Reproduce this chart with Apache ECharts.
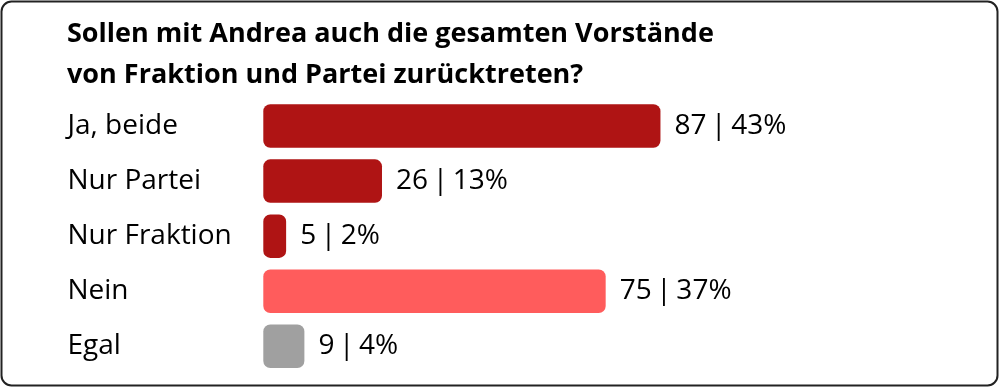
<!DOCTYPE html>
<html>
<head>
<meta charset="utf-8">
<script src="https://cdn.jsdelivr.net/npm/echarts@6/dist/echarts.min.js"></script>
<style>
html,body{margin:0;padding:0;background:#fff;}
#c{width:1000px;height:388px;}
</style>
</head>
<body>
<div id="c"></div>
<script>
const titleText = 'Sollen mit Andrea auch die gesamten Vorstände\nvon Fraktion und Partei zurücktreten?';
const categories = ['Ja, beide', 'Nur Partei', 'Nur Fraktion', 'Nein', 'Egal'];
const counts = [87, 26, 5, 75, 9];
const percents = [43, 13, 2, 37, 4];
const barColors = ['#AF1414', '#AF1414', '#AF1414', '#FF5C5C', '#A0A0A0'];

const FONT = '"Open Sans", sans-serif';
const chart = echarts.init(document.getElementById('c'), null, {renderer: 'canvas'});
const gridLeft = 263.3;
chart.setOption({
  backgroundColor: '#fff',
  animation: false,
  title: {
    text: titleText,
    left: 62,
    top: 9,
    textStyle: {fontFamily: FONT, fontWeight: 'bold', fontSize: 27, lineHeight: 41, color: '#000'}
  },
  graphic: [{
    type: 'rect', z: 100, silent: true,
    shape: {x: 1.5, y: 1.5, width: 996, height: 384, r: 10},
    style: {fill: 'none', stroke: '#222', lineWidth: 2}
  }],
  grid: {left: gridLeft, top: 98.5, width: 456.5, height: 275.3, containLabel: false},
  xAxis: {type: 'value', min: 0, max: 100, show: false},
  yAxis: {
    type: 'category', data: categories, inverse: true,
    axisLine: {show: false}, axisTick: {show: false},
    axisLabel: {align: 'left', margin: gridLeft - 67.5, fontFamily: FONT, fontSize: 28, color: '#000'}
  },
  series: [{
    type: 'bar',
    data: counts.map((v, i) => ({value: v, itemStyle: {color: barColors[i]}})),
    barCategoryGap: '21%',
    itemStyle: {borderRadius: 7},
    label: {
      show: true, position: 'right', distance: 14,
      fontFamily: FONT, fontSize: 28, color: '#000',
      formatter: p => counts[p.dataIndex] + '\u2009|\u2009' + percents[p.dataIndex] + '%'
    }
  }]
});
</script>
</body>
</html>
